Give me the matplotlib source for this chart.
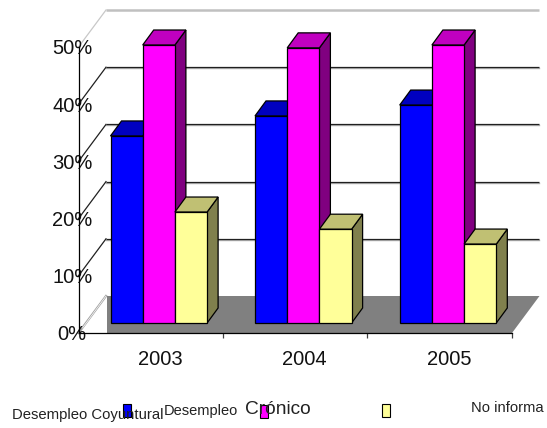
import matplotlib
matplotlib.use('Agg')
import matplotlib.pyplot as plt
from matplotlib.patches import Polygon, Rectangle

plt.rcParams['font.family'] = ['Liberation Sans', 'DejaVu Sans']

years = ['2003', '2004', '2005']
coyuntural = [32.7, 36.2, 38.1]
cronico = [48.6, 48.1, 48.6]
no_informa = [19.4, 16.4, 13.8]
y_ticks = [0, 10, 20, 30, 40, 50]
y_labels = ['0%', '10%', '20%', '30%', '40%', '50%']

W, H = 547, 428
# plot box in pixels, y measured from the top
LEFT, RIGHT, BOTTOM, TOP = 78.5, 512, 333, 47

X_UNIT = (RIGHT - LEFT) / 3
Y_UNIT = (BOTTOM - TOP) / 50


def dx(px):
    return px / X_UNIT


def dy(px):
    return px / Y_UNIT


WALL_X, WALL_Y = dx(27.5), dy(37)
BAR_X, BAR_Y = dx(11), dy(15)
BASE = dy(10)
BAR_W = dx(32.2)
GROUP_X = [dx(32), dx(176.5), dx(321.2)]

fig = plt.figure(figsize=(W / 100, H / 100), dpi=100, facecolor='white')
ax = fig.add_axes([LEFT / W, 1 - BOTTOM / H, (RIGHT - LEFT) / W, (BOTTOM - TOP) / H])
ax.patch.set_visible(False)
ax.set_xlim(0, 3)
ax.set_ylim(0, 50)

# back wall lines
for v in y_ticks[1:]:
    top = v == 50
    if not top:
        ax.plot([WALL_X, 3 + WALL_X], [v + WALL_Y - dy(1), v + WALL_Y - dy(1)], color='#b0b0b0', lw=1, clip_on=False, zorder=0.4)
    ax.plot([WALL_X, 3 + WALL_X], [v + WALL_Y, v + WALL_Y], color='#c0c0c0' if top else '#202020',
            lw=1.8 if top else 0.9, clip_on=False, zorder=0.5, solid_capstyle='butt')
    ax.plot([0, WALL_X], [v, v + WALL_Y], color='#c8c8c8' if top else '#202020', lw=0.9,
            clip_on=False, zorder=0.5)
ax.plot([0, WALL_X], [0, WALL_Y], color='#a0a0a0', lw=1.6, clip_on=False, zorder=0.5)
ax.plot([dx(4), WALL_X], [dy(5), WALL_Y], color='white', lw=0.5, clip_on=False, zorder=0.55)

# floor
ax.add_patch(Polygon([(dx(28.5), 0), (3, 0), (3 + WALL_X, WALL_Y), (dx(28.5), WALL_Y)],
                     closed=True, facecolor='#808080', edgecolor='none', clip_on=False, zorder=0.6))

series = [
    (coyuntural, '#0000ff', '#0000c0', '#000080'),
    (cronico, '#ff00ff', '#c000c0', '#800080'),
    (no_informa, '#ffff99', '#c0c073', '#80804d'),
]

z = 1.0
for g, x0 in enumerate(GROUP_X):
    for s, (values, front, top, side) in enumerate(series):
        x = x0 + s * BAR_W
        y = BASE + values[g]
        ax.add_patch(Polygon([(x + BAR_W, BASE), (x + BAR_W + BAR_X, BASE + BAR_Y),
                              (x + BAR_W + BAR_X, y + BAR_Y), (x + BAR_W, y)],
                             closed=True, facecolor=side, edgecolor='black', lw=0.9, clip_on=False, zorder=z))
        ax.add_patch(Polygon([(x, y), (x + BAR_X, y + BAR_Y), (x + BAR_W + BAR_X, y + BAR_Y), (x + BAR_W, y)],
                             closed=True, facecolor=top, edgecolor='black', lw=0.9, clip_on=False, zorder=z))
        ax.bar(x, values[g], BAR_W, bottom=BASE, align='edge', color=front, edgecolor='black', lw=0.9,
               clip_on=False, zorder=z + 0.01)
        z += 0.02

for name in ['top', 'right']:
    ax.spines[name].set_visible(False)
for name in ['left', 'bottom']:
    ax.spines[name].set_linewidth(0.9)
    ax.spines[name].set_zorder(3)

ax.set_yticks(y_ticks, y_labels, fontsize=14.5, color='#111111', ha='center')
ax.tick_params(axis='y', length=0, pad=4.5)
ax.set_xticks([x + dx(49.5) for x in GROUP_X], years, fontsize=14.5, color='#111111')
ax.tick_params(axis='x', which='major', length=0, pad=12.5)
ax.set_xticks([1, 2, 3], minor=True)
ax.tick_params(axis='x', which='minor', length=3.5, width=0.9, color='#404040')


def px(x, y):
    return x / W, 1 - y / H


# legend is scattered in the source, text sits under the swatches
fig.text(*px(12, 415), 'Desempleo Coyuntural', fontsize=10.7, va='center', color='#222222')
fig.text(*px(164, 411), 'Desempleo', fontsize=10.5, va='center', color='#222222')
fig.text(*px(245, 410), 'Crónico', fontsize=13.8, va='center', color='#222222')
fig.text(*px(471, 408), 'No informa', fontsize=10.6, va='center', color='#222222')

swatches = [(123, 404, '#0000ff'), (259.5, 405, '#ff00ff'), (382, 404, '#ffff99')]
for sx, sy, c in swatches:
    fig.add_artist(Rectangle(px(sx, sy + 13), 8 / W, 13 / H, transform=fig.transFigure,
                             facecolor=c, edgecolor='black', lw=0.8))

fig.savefig('out.png', dpi=100, facecolor='white')
